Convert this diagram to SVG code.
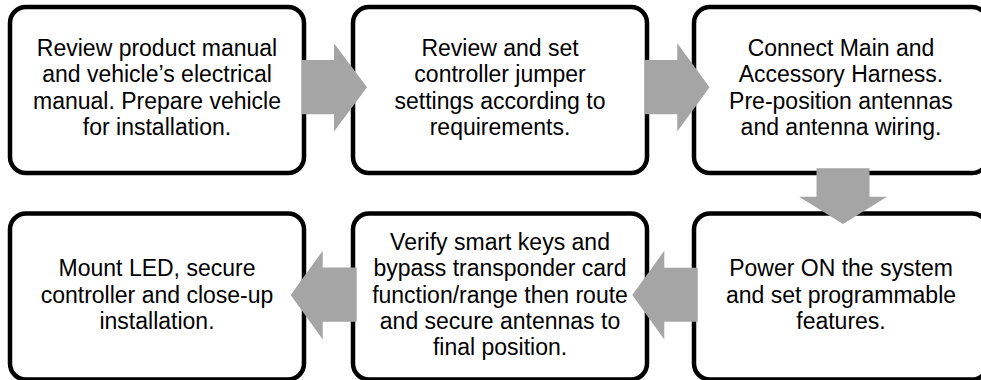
<svg xmlns="http://www.w3.org/2000/svg" width="981" height="380" viewBox="0 0 981 380">
  <style>
    .box { fill: #ffffff; stroke: #000000; stroke-width: 4.5; }
    .lbl { font-family: "Liberation Sans", Arial, sans-serif; font-size: 23px; fill: #000000; text-anchor: middle; }
    .arr { fill: #A5A5A5; stroke: none; }
  </style>
  <rect width="981" height="380" fill="#ffffff"/>
  <g id="node1">
    <rect class="box" x="10" y="7" width="294" height="166" rx="16" ry="16"/>
    <text class="lbl"><tspan x="157" y="56">Review product manual</tspan><tspan x="157" y="82.3">and vehicle’s electrical</tspan><tspan x="157" y="108.6">manual. Prepare vehicle</tspan><tspan x="157" y="135">for installation.</tspan></text>
  </g>
  <g id="node2">
    <rect class="box" x="353" y="7" width="294" height="166" rx="16" ry="16"/>
    <text class="lbl"><tspan x="500" y="56">Review and set</tspan><tspan x="500" y="82.3">controller jumper</tspan><tspan x="500" y="108.6">settings according to</tspan><tspan x="500" y="135">requirements.</tspan></text>
  </g>
  <g id="node3">
    <rect class="box" x="694" y="7" width="294" height="166" rx="16" ry="16"/>
    <text class="lbl"><tspan x="841" y="56">Connect Main and</tspan><tspan x="841" y="82.3">Accessory Harness.</tspan><tspan x="841" y="108.6">Pre-position antennas</tspan><tspan x="841" y="135">and antenna wiring.</tspan></text>
  </g>
  <g id="node4">
    <rect class="box" x="694" y="213.5" width="294" height="166" rx="16" ry="16"/>
    <text class="lbl"><tspan x="841" y="276.2">Power ON the system</tspan><tspan x="841" y="302.5">and set programmable</tspan><tspan x="841" y="328.8">features.</tspan></text>
  </g>
  <g id="node5">
    <rect class="box" x="353" y="213.5" width="294" height="166" rx="16" ry="16"/>
    <text class="lbl"><tspan x="500" y="249.9">Verify smart keys and</tspan><tspan x="500" y="276.2">bypass transponder card</tspan><tspan x="500" y="302.5">function/range then route</tspan><tspan x="500" y="328.8">and secure antennas to</tspan><tspan x="500" y="355.1">final position.</tspan></text>
  </g>
  <g id="node6">
    <rect class="box" x="10" y="213.5" width="294" height="166" rx="16" ry="16"/>
    <text class="lbl"><tspan x="157" y="276.2">Mount LED, secure</tspan><tspan x="157" y="302.5">controller and close-up</tspan><tspan x="157" y="328.8">installation.</tspan></text>
  </g>
  <g id="connectors">
    <polygon class="arr" points="302,60 334,60 334,43.3 367,87.3 334,131.5 334,114.3 302,114.3"/>
    <polygon class="arr" points="644.5,60 677.3,60 677.3,43.3 709.5,87.3 677.3,131.5 677.3,114.3 644.5,114.3"/>
    <polygon class="arr" points="816.5,168.3 869.5,168.3 869.5,196.7 887,196.7 843,224 799,196.7 816.5,196.7"/>
    <polygon class="arr" points="697.7,267.7 664.3,267.7 664.3,250.7 632.3,295 664.3,339.5 664.3,321.7 697.7,321.7"/>
    <polygon class="arr" points="356.7,267.5 322.7,267.5 322.7,250.7 290.7,295 322.7,339.5 322.7,321.7 356.7,321.7"/>
  </g>
</svg>
